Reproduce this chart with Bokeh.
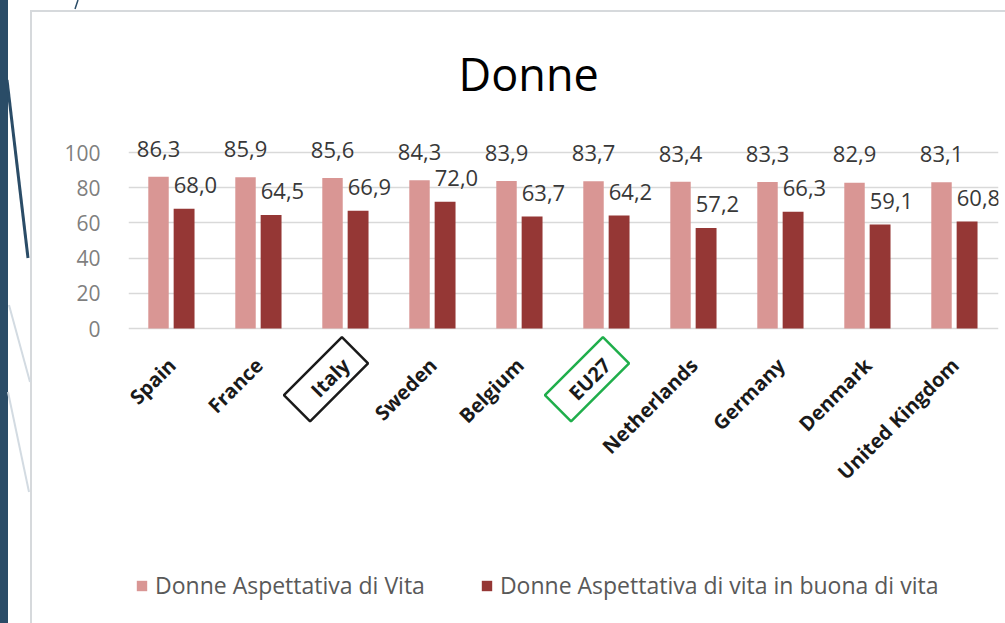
from math import pi
from bokeh.plotting import figure
from bokeh.models import (ColumnDataSource, FactorRange, Range1d, FixedTicker,
                          Legend, LegendItem, Label)
from bokeh.transform import dodge
from bokeh.core.properties import value
from bokeh.embed import file_html
from bokeh.resources import INLINE

# ---------------- data ----------------
countries = ["Spain", "France", "Italy", "Sweden", "Belgium", "EU27",
             "Netherlands", "Germany", "Denmark", "United Kingdom"]
life_expectancy = [86.3, 85.9, 85.6, 84.3, 83.9, 83.7, 83.4, 83.3, 82.9, 83.1]
healthy_life = [68.0, 64.5, 66.9, 72.0, 63.7, 64.2, 57.2, 66.3, 59.1, 60.8]
y_ticks = [0, 20, 40, 60, 80, 100]
highlighted = ["Italy", "EU27"]
highlight_colors = ["#1a1a1a", "#1fae4b"]
series_names = ["Donne Aspettativa di Vita",
                "Donne Aspettativa di vita in buona di vita"]
title_text = "Donne"

# ---------------- style ----------------
FONT = "Open Sans"
PINK = "#d99694"
DARK = "#953735"
STRIP = "#2a4c67"
BORDER = "#d6d9dc"


def it_fmt(v):
    return f"{v:.1f}".replace(".", ",")


src = ColumnDataSource(dict(
    cat=countries,
    v1=life_expectancy,
    v2=healthy_life,
    l1=[it_fmt(v) for v in life_expectancy],
    l2=[it_fmt(v) for v in healthy_life],
))
hsrc = ColumnDataSource(dict(cat=highlighted, color=highlight_colors))

# slide decoration behind the chart (dark side strip, thin diagonal strokes, chart frame)
deco_svg = ("<svg xmlns='http://www.w3.org/2000/svg' width='100' height='623'>"
            "<line x1='7' y1='80' x2='28' y2='258' stroke='%232a4c67' stroke-width='3'/>"
            "<line x1='9' y1='305' x2='30' y2='382' stroke='%23d3dbe2' stroke-width='2'/>"
            "<line x1='8' y1='392' x2='29' y2='492' stroke='%23d3dbe2' stroke-width='2'/>"
            "<line x1='78' y1='0' x2='75' y2='9' stroke='%232a4c67' stroke-width='1.5'/>"
            "</svg>")
page_bg = (f"url(\"data:image/svg+xml;utf8,{deco_svg}\") 0 0 / 100px 623px no-repeat, "
           f"linear-gradient({BORDER},{BORDER}) 30px 10px / 2px 613px no-repeat, "
           f"linear-gradient({BORDER},{BORDER}) 30px 10px / 975px 2px no-repeat, "
           f"linear-gradient({STRIP},{STRIP}) 0 0 / 8px 100% no-repeat, #ffffff")

p = figure(width=1005, height=623,
           x_range=FactorRange(factors=countries),
           y_range=Range1d(-167.6, 186.4),
           output_backend="svg", toolbar_location=None,
           x_axis_location=None,
           min_border_left=128, min_border_right=7,
           min_border_top=0, min_border_bottom=0,
           styles={"background": page_bg})
p.outline_line_color = None
p.background_fill_color = None
p.border_fill_color = None

# y axis
p.yaxis.ticker = FixedTicker(ticks=y_ticks)
p.yaxis.axis_line_color = None
p.yaxis.major_tick_line_color = None
p.yaxis.minor_tick_line_color = None
p.yaxis.major_label_text_font = FONT
p.yaxis.major_label_text_font_size = "21px"
p.yaxis.major_label_text_color = "#7f7f7f"
p.yaxis.major_label_standoff = 22
p.ygrid.grid_line_color = "#d9d9d9"
p.ygrid.grid_line_width = 1.6
p.xgrid.grid_line_color = None

# bars
r1 = p.vbar(x=dodge("cat", -0.155, range=p.x_range), top="v1", width=0.235,
            fill_color=PINK, line_color=None, source=src)
r2 = p.vbar(x=dodge("cat", 0.139, range=p.x_range), top="v2", width=0.24,
            fill_color=DARK, line_color=None, source=src)

# value labels
p.text(x=dodge("cat", -0.155, range=p.x_range), y=dodge("v1", 16.0, range=p.y_range),
       text="l1", text_align="center", text_baseline="alphabetic",
       text_font=value(FONT), text_font_size="22px", text_color="#383838", source=src)
p.text(x=dodge("cat", 0.02, range=p.x_range), y=dodge("v2", 13.5, range=p.y_range),
       text="l2", text_align="left", text_baseline="alphabetic",
       text_font=value(FONT), text_font_size="22px", text_color="#383838", source=src)

# category labels (rotated)
p.text(x="cat", y=-18.8, text="cat", angle=pi / 4,
       text_align="right", text_baseline="middle",
       text_font=value(FONT), text_font_size="20px", text_font_style="bold",
       text_color="#1a1a1a", source=src)

# highlight boxes
p.rect(x=dodge("cat", -0.23, range=p.x_range), y=-28.8, width=82, height=37,
       width_units="screen", height_units="screen", angle=pi / 4,
       fill_color=None, line_color="color", line_width=2.5, source=hsrc)

# title
p.add_layout(Label(x=4.6, y=145.0, text=title_text, text_font=FONT,
                   text_font_size="45px", text_align="center",
                   text_baseline="alphabetic", text_color="#000000"))

legend = Legend(items=[LegendItem(label=series_names[0], renderers=[r1]),
                       LegendItem(label=series_names[1], renderers=[r2])],
                orientation="horizontal", location=(7, 22),
                label_text_font=FONT, label_text_font_size="23px",
                label_text_color="#595959", glyph_width=13, glyph_height=13,
                label_standoff=7, spacing=55, padding=0, margin=0,
                label_height=20, border_line_color=None,
                background_fill_alpha=0)
p.add_layout(legend)

open("out.html", "w").write(file_html(p, INLINE))
